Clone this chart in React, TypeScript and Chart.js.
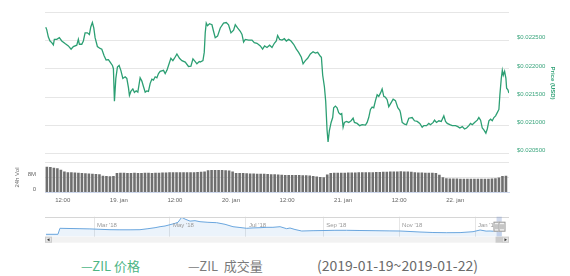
import React, { useEffect, useRef } from 'react';
import { Chart, registerables } from 'chart.js';

Chart.register(...registerables);

// ---------- Price (USD), hours relative to 19 Jan 2019 00:00 ----------
const PRICE_T = [
  -15.64, -15.43, -15.08, -14.72, -14.36, -14.01, -13.8, -13.28, -12.73, -12.21,
  -11.51, -10.8, -10.22, -9.73, -9.0, -8.66, -8.44, -7.93, -7.59, -7.22,
  -6.73, -6.3, -6.0, -5.66, -5.36, -5.08, -4.59, -4.01, -3.64, -3.15,
  -2.72, -2.23, -1.86, -1.37, -1.16, -0.94, -0.64, -0.3, 0.06, 0.43,
  0.86, 1.35, 1.71, 2.06, 2.27, 2.57, 3.0, 3.34, 3.71, 4.07,
  4.56, 4.93, 5.27, 5.64, 6.0, 6.34, 6.71, 7.07, 7.41, 7.78,
  8.14, 8.49, 8.85, 9.56, 9.92, 10.29, 10.63, 11.14, 11.57, 11.91,
  12.43, 12.98, 13.5, 14.21, 14.91, 15.43, 15.86, 16.35, 16.71, 17.21,
  17.42, 18.0, 18.28, 18.49, 18.71, 18.98, 19.41, 19.93, 20.27, 20.63,
  21.13, 21.71, 22.41, 22.99, 23.48, 24.0, 24.56, 24.92, 25.41, 25.99,
  26.36, 26.7, 27.06, 27.77, 28.5, 28.99, 29.57, 30.28, 30.77, 31.2,
  31.71, 32.27, 32.78, 33.28, 33.7, 33.98, 34.41, 34.93, 35.42, 35.85,
  36.34, 36.85, 37.41, 37.99, 38.48, 39.06, 39.43, 39.92, 40.41, 40.99,
  41.57, 42.06, 42.55, 43.13, 43.35, 43.63, 43.99, 44.27, 44.57, 44.78,
  45.06, 45.43, 45.77, 45.98, 46.35, 46.71, 47.05, 47.42, 47.7, 48.0,
  48.28, 48.71, 49.2, 49.71, 50.14, 50.42, 51.0, 51.55, 52.07, 52.78,
  53.14, 53.48, 53.85, 54.21, 54.55, 54.92, 55.28, 55.63, 55.99, 56.35,
  56.7, 57.06, 57.42, 57.77, 58.13, 58.71, 59.2, 59.7, 60.12, 60.27,
  60.64, 61.13, 61.56, 62.05, 62.78, 63.27, 63.85, 64.41, 64.92, 65.27,
  65.85, 66.34, 66.7, 67.28, 67.56, 67.99, 68.48, 69.0, 69.55, 69.92,
  70.28, 70.84, 71.35, 72.06, 72.55, 72.98, 73.5, 73.99, 74.42, 74.91,
  75.27, 75.64, 76.13, 76.71, 77.05, 77.42, 77.78, 78.12, 78.55, 78.85,
  79.2, 79.56, 79.92, 80.27, 80.63, 80.99, 81.34, 81.55, 81.85, 82.07,
  82.28, 82.56, 82.84, 82.99, 83.27, 83.48,
];
const PRICE_USD = [
  0.02274, 0.0227, 0.022566, 0.022497, 0.022469, 0.022427, 0.022526, 0.022526, 0.022556, 0.022497,
  0.022451, 0.02241, 0.022352, 0.022399, 0.022422, 0.022526, 0.022439, 0.022439, 0.022497, 0.022642,
  0.022642, 0.022613, 0.022747, 0.022826, 0.022729, 0.022556, 0.022399, 0.022365, 0.022352, 0.022236,
  0.022161, 0.022167, 0.022122, 0.022063, 0.022005, 0.021427, 0.021832, 0.022035, 0.022063, 0.021976,
  0.021832, 0.021861, 0.021832, 0.02167, 0.021531, 0.021601, 0.021646, 0.021583, 0.021611, 0.021589,
  0.021844, 0.021785, 0.021688, 0.021589, 0.021611, 0.021601, 0.021745, 0.021819, 0.021802, 0.021861,
  0.021844, 0.021918, 0.021958, 0.021976, 0.021918, 0.021976, 0.022063, 0.022191, 0.022149, 0.022191,
  0.022266, 0.022191, 0.022149, 0.022122, 0.022045, 0.022052, 0.022179, 0.022132, 0.022092, 0.022132,
  0.022122, 0.022149, 0.022295, 0.022642, 0.022816, 0.022769, 0.022804, 0.022786, 0.02267, 0.022556,
  0.022583, 0.022729, 0.022816, 0.022826, 0.022786, 0.022642, 0.022688, 0.022786, 0.022729, 0.02267,
  0.022613, 0.022479, 0.022526, 0.022514, 0.022514, 0.022469, 0.022457, 0.02241, 0.022352, 0.02241,
  0.022382, 0.022422, 0.022382, 0.022457, 0.022497, 0.022595, 0.022526, 0.022514, 0.022538, 0.022497,
  0.022526, 0.022497, 0.022439, 0.022352, 0.022295, 0.022208, 0.022092, 0.022149, 0.022191, 0.022266,
  0.022306, 0.022283, 0.022295, 0.022226, 0.022208, 0.021889, 0.021688, 0.021427, 0.020906, 0.020703,
  0.020906, 0.02105, 0.021137, 0.021311, 0.02134, 0.021311, 0.021224, 0.021194, 0.021207, 0.020964,
  0.02105, 0.021068, 0.02105, 0.02108, 0.021125, 0.02105, 0.021033, 0.020993, 0.02101, 0.021003,
  0.02105, 0.021137, 0.021281, 0.021323, 0.021311, 0.021438, 0.021542, 0.021514, 0.021571, 0.021646,
  0.021514, 0.021497, 0.021455, 0.02133, 0.02138, 0.021462, 0.021438, 0.021311, 0.021264, 0.021224,
  0.02105, 0.021021, 0.02101, 0.021125, 0.021137, 0.02108, 0.021068, 0.021033, 0.020964, 0.020993,
  0.020993, 0.021033, 0.02101, 0.02105, 0.02109, 0.02105, 0.02108, 0.021068, 0.021167, 0.021068,
  0.021033, 0.02101, 0.020993, 0.020993, 0.020976, 0.020951, 0.020976, 0.020934, 0.020951, 0.020993,
  0.021033, 0.02101, 0.02105, 0.02109, 0.021137, 0.02109, 0.020951, 0.020917, 0.020859, 0.020934,
  0.02108, 0.021108, 0.02108, 0.021137, 0.021167, 0.021224, 0.021281, 0.021542, 0.021832, 0.021976,
  0.021889, 0.021958, 0.021832, 0.021658, 0.021628, 0.021571,
];

// ---------- 24h volume (millions), one bar every 0.75 h ----------
const VOL_START = -15.4;
const VOL_STEP = 0.75;
const VOL_M = [
  13.8, 13.6, 13.3, 13.0, 12.2, 11.3, 10.9, 10.8, 10.7, 10.6,
  10.5, 10.3, 10.2, 10.0, 9.9, 9.7, 9.0, 8.8, 8.7, 8.8,
  10.5, 10.6, 10.6, 10.5, 10.5, 10.6, 10.5, 10.5, 10.6, 10.6,
  10.5, 10.6, 10.6, 10.7, 10.7, 10.8, 10.8, 10.8, 10.9, 10.8,
  10.9, 10.9, 10.9, 11.0, 11.1, 11.3, 11.9, 12.0, 12.0, 12.0,
  12.0, 11.9, 11.8, 11.2, 10.5, 10.4, 10.4, 10.3, 10.2, 10.2,
  10.1, 10.0, 10.0, 9.9, 9.8, 9.7, 9.6, 9.5, 9.4, 9.4,
  9.3, 9.3, 9.3, 9.2, 9.2, 9.1, 8.8, 8.5, 8.3, 8.2,
  9.6, 10.5, 10.6, 10.6, 10.6, 10.6, 10.7, 10.7, 10.7, 10.8,
  10.8, 10.8, 10.9, 10.9, 11.0, 11.0, 11.1, 11.1, 11.2, 11.3,
  11.3, 11.4, 11.3, 11.3, 11.1, 10.8, 10.7, 10.7, 10.6, 10.6,
  10.6, 10.5, 9.5, 8.2, 7.6, 7.5, 7.5, 7.5, 7.4, 7.4,
  7.4, 7.4, 7.4, 7.4, 7.4, 7.4, 7.4, 7.5, 7.6, 8.0,
  8.8, 8.9,
];

// ---------- time axis ----------
const T_MIN = -15.8;
const T_MAX = 83.5;
const TIME_TICKS = [-12, 0, 12, 24, 36, 48, 60, 72];
const TIME_LABELS = ['12:00', '19. jan', '12:00', '20. jan', '12:00', '21. jan', '12:00', '22. jan'];

const PRICE_TICKS = [0.0205, 0.021, 0.0215, 0.022, 0.0225, 0.023];
const PRICE_LABELS = ['$0.020500', '$0.021000', '$0.021500', '$0.022000', '$0.022500', ''];

const VOL_TICKS = [0, 8e6, 16e6];
const VOL_LABELS = ['0', '8M', ''];

// ---------- navigator (days since 1 Jan 2018, relative level) ----------
const NAV_DAY = [
  20.4, 30.0, 31.6, 39.7, 47.7, 55.7, 63.8, 71.8, 79.8, 87.9,
  95.9, 102.3, 108.0, 112.0, 116.0, 120.0, 124.1, 126.4, 129.4, 132.1,
  136.1, 140.1, 144.1, 150.5, 157.5, 164.2, 170.6, 176.2, 181.6, 186.7,
  192.3, 197.9, 202.7, 208.4, 213.7, 216.4, 220.4, 225.8, 234.9, 244.5,
  252.5, 261.9, 272.6, 284.7, 296.7, 304.7, 312.8, 320.8, 331.2, 342.3,
  353.0, 363.4, 369.1, 373.9, 377.1, 382.7, 386.7,
];
const NAV_LEVEL = [
  12, 12, 42, 41, 40, 39, 37, 35, 34.5, 34.5,
  35, 40, 45, 50, 53.5, 60, 67, 72, 97, 88,
  78, 80, 75, 72, 70, 62, 50, 46, 42, 44,
  45, 47, 47, 50, 40, 43.5, 36, 28.5, 30, 31,
  32, 32, 31, 30, 29, 28.5, 26, 23.5, 21, 20,
  20.5, 25, 33.5, 28, 28.5, 26, 27,
];
const NAV_MIN = 19.6;
const NAV_MAX = 392.3;
const NAV_TICKS = [59, 120, 181, 243, 304, 365];
const NAV_LABELS = ["Mar '18", "May '18", "Jul '18", "Sep '18", "Nov '18", "Jan '19"];
const NAV_SELECTED = [382.3, 386.5];

// ---------- styles ----------
const GREEN = '#2c9f73';
const LABEL_GREEN = '#3aa57d';
const AXIS_FONT = { family: "'Liberation Sans', Arial, sans-serif", size: 6 };
const GRID = '#e6e6e6';

const navExtras = {
  id: 'navExtras',
  afterDraw(chart: any) {
    const { ctx, chartArea } = chart;
    const xs = chart.scales.x;
    const a = xs.getPixelForValue(NAV_SELECTED[0]);
    const b = xs.getPixelForValue(NAV_SELECTED[1]);
    const top = chartArea.top;
    const bot = chartArea.bottom;
    ctx.save();
    // outline
    ctx.strokeStyle = '#d6d6d6';
    ctx.lineWidth = 1;
    ctx.beginPath();
    ctx.moveTo(chartArea.left, Math.round(top) + 0.5);
    ctx.lineTo(chartArea.right, Math.round(top) + 0.5);
    ctx.stroke();
    // mask
    ctx.fillStyle = 'rgba(102,133,194,0.3)';
    ctx.fillRect(a, top, b - a, bot - top);
    // scrollbar track
    const sy = bot;
    const sh = 6;
    ctx.fillStyle = '#f2f2f2';
    ctx.fillRect(chartArea.left, sy, chartArea.right - chartArea.left, sh);
    // thumb
    ctx.fillStyle = '#cccccc';
    ctx.fillRect(a - 1, sy, Math.max(b - a + 2, 5), sh);
    // buttons
    const btn = (x: number, dir: number) => {
      ctx.fillStyle = '#e6e6e6';
      ctx.fillRect(x, sy, 7, sh);
      ctx.strokeStyle = '#cccccc';
      ctx.strokeRect(x + 0.5, sy + 0.5, 6, sh - 1);
      ctx.fillStyle = '#333333';
      ctx.beginPath();
      const cx = x + 3.5;
      const cy = sy + sh / 2;
      ctx.moveTo(cx + dir * 1.5, cy);
      ctx.lineTo(cx - dir * 1, cy - 1.5);
      ctx.lineTo(cx - dir * 1, cy + 1.5);
      ctx.closePath();
      ctx.fill();
    };
    btn(chartArea.left, -1);
    btn(chartArea.right - 7, 1);
    // handles
    const hy = (top + bot) / 2 - 5;
    [a, b].forEach((x: number) => {
      const hx = Math.round(x) - 3.5;
      ctx.fillStyle = '#f2f2f2';
      ctx.fillRect(hx, hy, 7, 10);
      ctx.strokeStyle = '#999999';
      ctx.strokeRect(hx + 0.5, hy + 0.5, 6, 9);
      ctx.beginPath();
      ctx.moveTo(hx + 2.5, hy + 2.5);
      ctx.lineTo(hx + 2.5, hy + 7.5);
      ctx.moveTo(hx + 4.5, hy + 2.5);
      ctx.lineTo(hx + 4.5, hy + 7.5);
      ctx.stroke();
    });
    ctx.restore();
  },
};

function makePriceChart(canvas: HTMLCanvasElement) {
  return new Chart(canvas, {
    type: 'line',
    data: {
      datasets: [
        {
          data: PRICE_T.map((t, i) => ({ x: t, y: PRICE_USD[i] })),
          borderColor: GREEN,
          borderWidth: 1.3,
          pointRadius: 0,
          fill: false,
          tension: 0,
        },
      ],
    },
    options: {
      animation: false,
      responsive: false,
      devicePixelRatio: 1,
      layout: { padding: { left: 45, top: 12.7, bottom: 165 - 156.7, right: 0 } },
      plugins: { legend: { display: false }, tooltip: { enabled: false } },
      scales: {
        x: { type: 'linear', min: T_MIN, max: T_MAX, display: false },
        y: {
          position: 'right',
          min: 0.0205,
          max: 0.023,
          afterBuildTicks: (s: any) => {
            s.ticks = PRICE_TICKS.map((v) => ({ value: v }));
          },
          afterFit: (s: any) => {
            s.width = 61;
          },
          grid: { color: GRID, drawTicks: false },
          border: { display: false },
          ticks: {
            padding: 8,
            labelOffset: -3,
            color: LABEL_GREEN,
            font: AXIS_FONT,
            autoSkip: false,
            callback: (v: any) => PRICE_LABELS[PRICE_TICKS.indexOf(v)] ?? '',
          },
          title: {
            display: true,
            text: 'Price (USD)',
            color: GREEN,
            font: { ...AXIS_FONT, weight: 'bold' },
            padding: { top: 13.4, bottom: 0 },
          },
        },
      },
    } as any,
  });
}

function makeVolumeChart(canvas: HTMLCanvasElement) {
  return new Chart(canvas, {
    type: 'bar',
    data: {
      datasets: [
        {
          data: VOL_M.map((v, i) => ({ x: VOL_START + i * VOL_STEP, y: v * 1e6 })),
          backgroundColor: '#6f6f6f',
          borderWidth: 0,
          barPercentage: 0.74,
          categoryPercentage: 1,
        },
      ],
    },
    options: {
      animation: false,
      responsive: false,
      devicePixelRatio: 1,
      layout: { padding: { left: 0, top: 6.7, bottom: 0, right: 61 } },
      plugins: { legend: { display: false }, tooltip: { enabled: false } },
      scales: {
        x: {
          type: 'linear',
          min: T_MIN,
          max: T_MAX,
          offset: false,
          afterBuildTicks: (s: any) => {
            s.ticks = TIME_TICKS.map((v) => ({ value: v }));
          },
          afterFit: (s: any) => {
            s.height = 17.5;
          },
          grid: { display: false, drawTicks: false },
          border: { display: true, color: '#ccd6eb' },
          ticks: {
            padding: 3.9,
            color: '#666666',
            font: AXIS_FONT,
            maxRotation: 0,
            autoSkip: false,
            callback: (v: any) => TIME_LABELS[TIME_TICKS.indexOf(v)] ?? '',
          },
        },
        y: {
          min: 0,
          max: 16e6,
          afterBuildTicks: (s: any) => {
            s.ticks = VOL_TICKS.map((v) => ({ value: v }));
          },
          afterFit: (s: any) => {
            s.width = 45;
          },
          grid: { color: GRID, drawTicks: false },
          border: { display: false },
          ticks: {
            padding: 9,
            labelOffset: -3,
            color: '#666666',
            font: AXIS_FONT,
            autoSkip: false,
            callback: (v: any) => VOL_LABELS[VOL_TICKS.indexOf(v)] ?? '',
          },
          title: {
            display: true,
            text: '24h Vol',
            color: '#666666',
            font: AXIS_FONT,
            padding: { top: 13.4, bottom: 0 },
          },
        },
      },
    } as any,
  });
}

function makeNavigatorChart(canvas: HTMLCanvasElement) {
  return new Chart(canvas, {
    type: 'line',
    data: {
      datasets: [
        {
          data: NAV_DAY.map((d, i) => ({ x: d, y: NAV_LEVEL[i] })),
          borderColor: '#6aa6de',
          borderWidth: 1,
          backgroundColor: 'rgba(110,170,230,0.14)',
          fill: 'origin',
          pointRadius: 0,
          tension: 0,
        },
      ],
    },
    options: {
      animation: false,
      responsive: false,
      devicePixelRatio: 1,
      layout: { padding: { left: 45, top: 6.7, bottom: 0, right: 61 } },
      plugins: { legend: { display: false }, tooltip: { enabled: false } },
      scales: {
        x: {
          type: 'linear',
          min: NAV_MIN,
          max: NAV_MAX,
          afterBuildTicks: (s: any) => {
            s.ticks = NAV_TICKS.map((v) => ({ value: v }));
          },
          afterFit: (s: any) => {
            s.height = 9.3;
          },
          grid: { color: GRID, drawTicks: false },
          border: { display: false },
          ticks: {
            align: 'start',
            mirror: true,
            labelOffset: 3,
            padding: 7.3,
            z: 1,
            color: '#999999',
            font: AXIS_FONT,
            maxRotation: 0,
            autoSkip: false,
            callback: (v: any) => NAV_LABELS[NAV_TICKS.indexOf(v)] ?? '',
          },
        },
        y: { display: false, min: 0, max: 100 },
      },
    } as any,
    plugins: [navExtras],
  });
}

export default function App() {
  const priceRef = useRef<HTMLCanvasElement>(null);
  const volRef = useRef<HTMLCanvasElement>(null);
  const navRef = useRef<HTMLCanvasElement>(null);

  useEffect(() => {
    const charts: Chart[] = [];
    if (priceRef.current) charts.push(makePriceChart(priceRef.current));
    if (volRef.current) charts.push(makeVolumeChart(volRef.current));
    if (navRef.current) charts.push(makeNavigatorChart(navRef.current));
    return () => charts.forEach((c) => c.destroy());
  }, []);

  const legendBase: React.CSSProperties = {
    position: 'absolute',
    fontFamily: "'Noto Sans CJK SC', 'Noto Sans', sans-serif",
    whiteSpace: 'pre',
  };

  return (
    <div
      style={{
        position: 'fixed',
        left: 0,
        top: 0,
        width: 570,
        height: 276,
        background: '#ffffff',
        overflow: 'hidden',
      }}
    >
      <canvas ref={priceRef} width={570} height={165} style={{ position: 'absolute', left: 0, top: 0 }} />
      <canvas ref={volRef} width={570} height={60} style={{ position: 'absolute', left: 0, top: 150 }} />
      <canvas ref={navRef} width={570} height={36} style={{ position: 'absolute', left: 0, top: 210 }} />
      <div style={{ ...legendBase, left: 81, top: 258.5, fontSize: 13, lineHeight: '13px', color: '#4db584' }}>
        {'—ZIL 价格'}
      </div>
      <div style={{ ...legendBase, left: 188, top: 258.5, fontSize: 13, lineHeight: '13px', color: '#7a7a7a' }}>
        {'—ZIL  成交量'}
      </div>
      <div style={{ ...legendBase, left: 317, top: 257.5, fontSize: 14, lineHeight: '14px', color: '#6a6a6a' }}>
        {'(2019-01-19~2019-01-22)'}
      </div>
    </div>
  );
}
